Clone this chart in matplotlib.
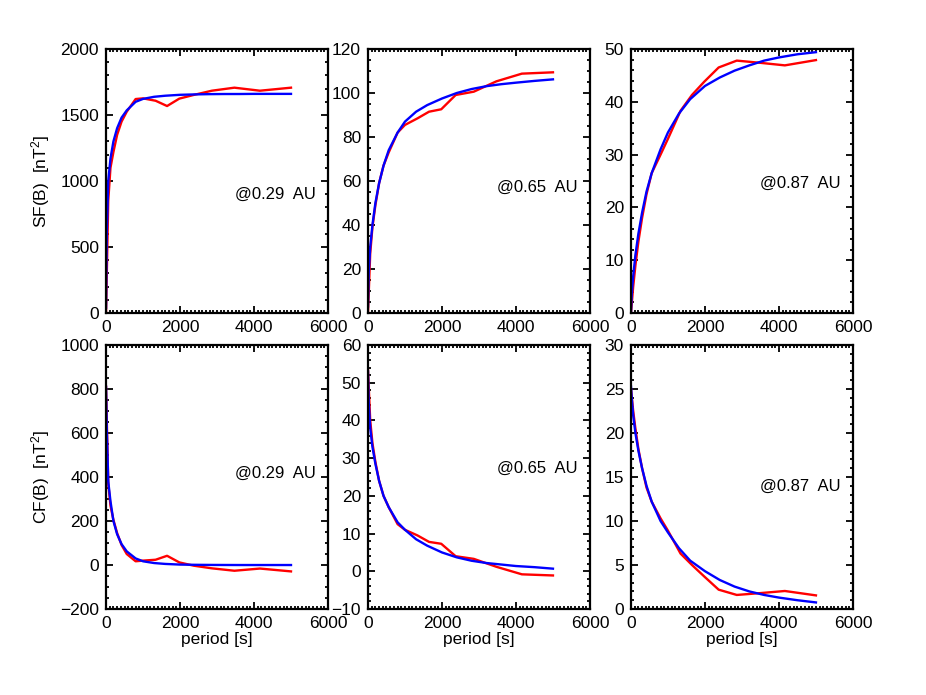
import matplotlib
matplotlib.use("Agg")
from matplotlib import pyplot as plt
from matplotlib.ticker import MultipleLocator, AutoMinorLocator

plt.rcParams['font.family'] = ['Liberation Sans', 'DejaVu Sans']
plt.rcParams['mathtext.default'] = 'regular'

# periods of the measured curves (red) and of the fits (blue)
period_red = [0, 60, 120, 200, 300, 420, 560, 800, 1000, 1340, 1650, 1980, 2370, 2860, 3470, 4160, 5000]
period_fit = [0, 20, 60, 120, 200, 300, 420, 560, 800, 1000, 1300, 1600, 2000, 2400, 2800, 3200, 3600, 4000, 4500, 5000]

# structure functions SF(B)
sf_029 = [0, 850, 1100, 1220, 1350, 1450, 1525, 1621, 1626, 1608, 1568, 1624, 1652, 1684, 1707, 1684, 1707]
sf_065 = [0, 27, 39, 49, 59, 67, 73, 82, 85.5, 88.5, 91.5, 92.6, 99.1, 100.6, 105.3, 108.8, 109.4]
sf_087 = [0, 5, 9, 13.5, 18, 22.5, 26.5, 30, 33, 38.3, 41.3, 43.8, 46.5, 47.8, 47.4, 46.9, 47.9]
sf_029_fit = [40, 600, 1000, 1170, 1300, 1400, 1480, 1535, 1600, 1622, 1638, 1646, 1653, 1656, 1658, 1659, 1659, 1660, 1660, 1660]
sf_065_fit = [3, 18, 30, 40, 50, 59, 67, 74, 82, 87, 91.5, 94.5, 97.5, 100, 101.8, 103.1, 104, 104.7, 105.5, 106.2]
sf_087_fit = [0, 3.5, 7, 11, 15, 19, 23, 26.5, 31, 34.2, 37.8, 40.5, 43, 44.6, 45.9, 46.9, 47.8, 48.4, 49, 49.4]

# correlation functions CF(B)
cf_029 = [810, 371, 270, 205, 145, 91, 50, 17, 20, 24, 42, 12, -3, -15, -26, -16, -29]
cf_065 = [53.4, 40, 34, 29, 24, 20, 17, 12.5, 11, 9.5, 7.8, 7.3, 4.0, 3.3, 1.2, -0.8, -1.1]
cf_087 = [25, 22.5, 20.5, 18.2, 16, 13.8, 12.2, 10.3, 8.9, 6.3, 5.0, 3.7, 2.2, 1.6, 1.8, 2.05, 1.55]
cf_029_fit = [810, 620, 380, 290, 200, 140, 95, 62, 30, 17, 9, 5, 2, 1, 0.5, 0.2, 0, 0, 0, 0]
cf_065_fit = [53, 45, 38, 33, 28.5, 24, 20, 17, 13, 11, 8.5, 6.8, 5, 3.7, 2.8, 2.2, 1.8, 1.4, 1.1, 0.7]
cf_087_fit = [25.3, 24, 22, 20, 18, 16, 14, 12.2, 10, 8.7, 6.9, 5.5, 4.3, 3.3, 2.55, 2.0, 1.6, 1.3, 1.0, 0.75]

labels = ['@0.29  AU', '@0.65  AU', '@0.87  AU']

fig = plt.figure(figsize=(9.26, 6.95), dpi=100)

lefts = [0.1145, 0.3974, 0.6814]
bottoms = [0.5496, 0.1237]
w, h = 0.2397, 0.3799

rows = [
    dict(red=[sf_029, sf_065, sf_087], fit=[sf_029_fit, sf_065_fit, sf_087_fit],
         ylims=[(0, 2000), (0, 120), (0, 50)], steps=[500, 20, 10], minors=[5, 4, 5],
         ylabel='SF(B)  [nT$^2$]', text_y=[0.45, 0.477, 0.49]),
    dict(red=[cf_029, cf_065, cf_087], fit=[cf_029_fit, cf_065_fit, cf_087_fit],
         ylims=[(-200, 1000), (-10, 60), (0, 30)], steps=[200, 10, 5], minors=[4, 5, 5],
         ylabel='CF(B)  [nT$^2$]', text_y=[0.515, 0.534, 0.466]),
]

for r, row in enumerate(rows):
    for c in range(3):
        ax = fig.add_axes([lefts[c], bottoms[r], w, h])
        ax.plot(period_red, row['red'][c], color='red', lw=1.7)
        ax.plot(period_fit, row['fit'][c], color='blue', lw=1.7)
        ax.set_xlim(0, 6000)
        ax.set_ylim(*row['ylims'][c])
        ax.xaxis.set_major_locator(MultipleLocator(2000))
        ax.xaxis.set_minor_locator(AutoMinorLocator(20))
        ax.yaxis.set_major_locator(MultipleLocator(row['steps'][c]))
        ax.yaxis.set_minor_locator(AutoMinorLocator(row['minors'][c]))
        ax.tick_params(which='both', direction='in', top=True, right=True, width=1.3, labelsize=12.5)
        ax.tick_params(which='major', length=5, pad=5)
        ax.tick_params(which='minor', length=2.5)
        for s in ax.spines.values():
            s.set_linewidth(1.6)
        ax.text(0.58, row['text_y'][c], labels[c], transform=ax.transAxes, fontsize=12, va='center')
        if c == 0:
            ax.set_ylabel(row['ylabel'], fontsize=12.5, labelpad=6)
        if r == 1:
            ax.set_xlabel('period [s]', fontsize=12.5, labelpad=1)

fig.savefig('out.png', dpi=100)
